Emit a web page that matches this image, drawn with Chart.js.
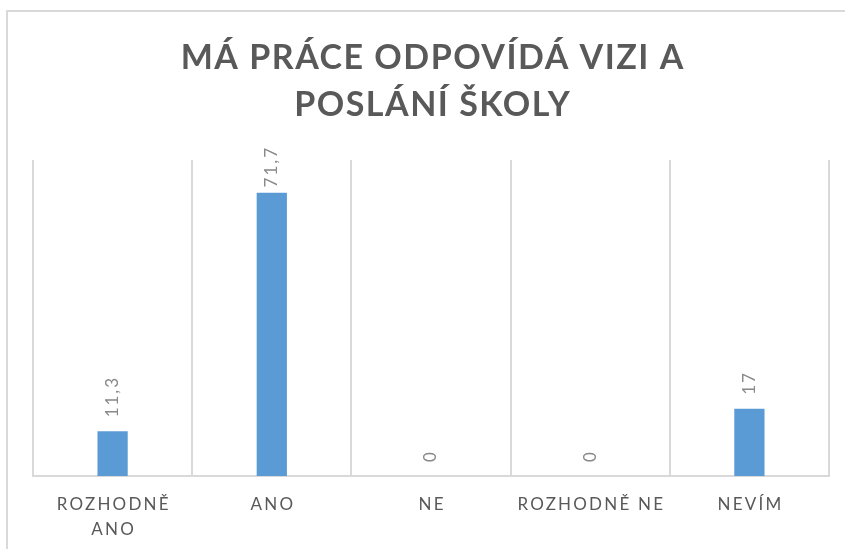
<!DOCTYPE html>
<html lang="cs">
<head>
<meta charset="utf-8">
<title>Má práce odpovídá vizi a poslání školy</title>
<script src="https://cdn.jsdelivr.net/npm/chart.js@4/dist/chart.umd.min.js"></script>
<style>
  html, body { margin: 0; padding: 0; background: #fff; overflow: hidden; }
  #frame {
    position: absolute; left: 6px; top: 10px;
    width: 900px; height: 600px;
    border: 2px solid #d9d9d9;
  }
  #wrap { position: absolute; left: 0; top: 0; width: 845px; height: 549px; }
</style>
</head>
<body>
<div id="frame"></div>
<div id="wrap"><canvas id="chart" width="845" height="549"></canvas></div>
<script>
const titleLines = ['MÁ PRÁCE ODPOVÍDÁ VIZI A', 'POSLÁNÍ ŠKOLY'];
const categories = [['ROZHODNĚ', 'ANO'], ['ANO'], ['NE'], ['ROZHODNĚ NE'], ['NEVÍM']];
const values = [11.3, 71.7, 0, 0, 17];
const yMin = 0;
const yMax = 80;

const GREY = '#595959';

// draws the spaced-out title, the category labels and the rotated value labels
const textPlugin = {
    id: 'spacedText',
    afterDraw(chart) {
        const ctx = chart.ctx;
        const xScale = chart.scales.x;
        const area = chart.chartArea;

        // title
        ctx.save();
        ctx.fillStyle = GREY;
        ctx.font = 'bold 34px Lato';
        ctx.letterSpacing = '1.5px';
        ctx.textAlign = 'center';
        ctx.textBaseline = 'alphabetic';
        titleLines.forEach((line, i) => {
            ctx.fillText(line, 432 + 0.75, 69 + i * 47);
        });
        ctx.restore();

        // category labels under the axis
        ctx.save();
        ctx.fillStyle = GREY;
        ctx.font = '17px Lato';
        ctx.letterSpacing = '2.2px';
        ctx.textAlign = 'center';
        ctx.textBaseline = 'alphabetic';
        categories.forEach((lines, i) => {
            const x = xScale.getPixelForValue(i);
            lines.forEach((line, j) => {
                ctx.fillText(line, x + 1.1, area.bottom + 34 + j * 25);
            });
        });
        ctx.restore();

        // value labels, rotated, above each bar (kept inside the frame when the bar is tall)
        const meta = chart.getDatasetMeta(0);
        ctx.save();
        ctx.fillStyle = '#898989';
        ctx.font = '17px Lato';
        ctx.letterSpacing = '2px';
        ctx.textAlign = 'left';
        ctx.textBaseline = 'middle';
        meta.data.forEach((bar, i) => {
            const text = String(values[i]).replace('.', ',');
            const len = ctx.measureText(text).width;
            let start = bar.y - 14;
            if (start - len < area.top - 14) start = area.top - 14 + len;
            ctx.save();
            ctx.translate(bar.x, start);
            ctx.rotate(-Math.PI / 2);
            ctx.fillText(text, 0, 0);
            ctx.restore();
        });
        ctx.restore();
    }
};

new Chart(document.getElementById('chart'), {
    type: 'bar',
    data: {
        labels: categories.map(c => c.join(' ')),
        datasets: [{
            data: values,
            backgroundColor: '#5b9bd5',
            borderWidth: 0,
            barPercentage: 0.19,
            categoryPercentage: 1
        }]
    },
    options: {
        responsive: false,
        animation: false,
        layout: { padding: { left: 33, right: 16, top: 160, bottom: 73 } },
        plugins: {
            legend: { display: false },
            title: { display: false },
            tooltip: { enabled: false }
        },
        scales: {
            x: {
                ticks: { display: false },
                grid: { color: '#d9d9d9', lineWidth: 2, drawTicks: false, offset: true },
                border: { color: '#d9d9d9', width: 2 }
            },
            y: {
                display: false,
                min: yMin,
                max: yMax
            }
        }
    },
    plugins: [textPlugin]
});
</script>
</body>
</html>
